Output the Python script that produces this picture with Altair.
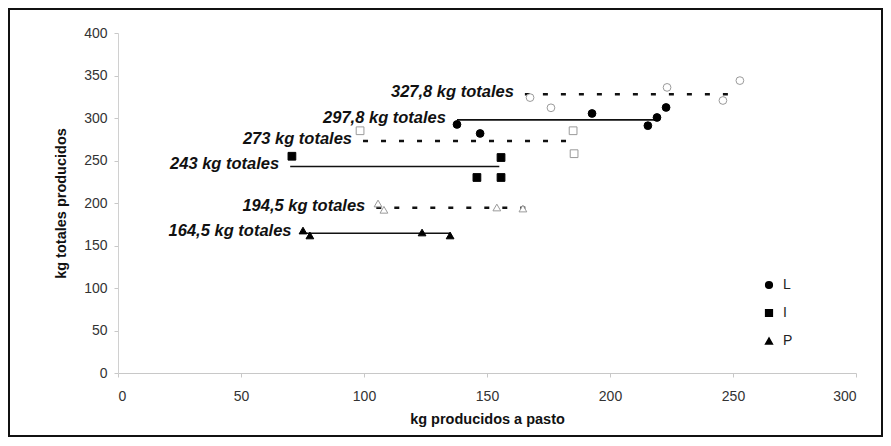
import altair as alt
import pandas as pd

# ---- horizontal "total" lines ----
line_label = ["327,8 kg totales", "297,8 kg totales", "273 kg totales",
              "243 kg totales", "194,5 kg totales", "164,5 kg totales"]
line_total = [327.8, 297.8, 273.0, 243.0, 194.5, 164.5]
line_style = ["dashed", "solid", "dashed", "solid", "dashed", "solid"]
line_start = [165.4, 137.8, 99.6, 70.0, 105.0, 75.0]
line_end = [249.6, 219.0, 183.0, 155.0, 167.5, 135.0]

# ---- points (x = kg producidos a pasto, y = kg totales producidos) ----
L_filled_x = [137.8, 147.2, 192.7, 215.4, 219.1, 222.8]
L_filled_y = [292.4, 281.8, 305.3, 291.0, 300.6, 312.4]
L_open_x = [167.5, 176.0, 223.2, 245.9, 252.8]
L_open_y = [324.0, 312.0, 336.0, 320.6, 344.0]
I_filled_x = [70.7, 145.9, 155.7, 155.7]
I_filled_y = [255.0, 230.0, 253.5, 230.0]
I_open_x = [98.4, 185.0, 185.4]
I_open_y = [285.0, 285.0, 258.0]
P_filled_x = [75.2, 78.0, 123.6, 135.0]
P_filled_y = [167.6, 161.8, 165.3, 161.8]
P_open_x = [105.7, 108.1, 154.0, 164.6]
P_open_y = [199.4, 192.0, 194.7, 193.5]

x_ticks = [0, 50, 100, 150, 200, 250, 300]
y_ticks = [0, 50, 100, 150, 200, 250, 300, 350, 400]

rows = []
for g, f, xs_, ys_ in [("L", "filled", L_filled_x, L_filled_y), ("L", "open", L_open_x, L_open_y),
                       ("I", "filled", I_filled_x, I_filled_y), ("I", "open", I_open_x, I_open_y),
                       ("P", "filled", P_filled_x, P_filled_y), ("P", "open", P_open_x, P_open_y)]:
    for a, b in zip(xs_, ys_):
        rows.append({"group": g, "fill": f, "x": a, "y": b})
pts = pd.DataFrame(rows)
lines = pd.DataFrame({"label": line_label, "y": line_total, "style": line_style,
                      "x": line_start, "x2": line_end})

FONT = "Liberation Sans"
W, H = 738, 340
xs = alt.Scale(domain=[0, 300], nice=False)
ys = alt.Scale(domain=[0, 400], nice=False)
xaxis = alt.Axis(title="kg producidos a pasto", values=x_ticks, grid=False, domainColor="#c8c8c8",
                 tickColor="#c8c8c8", tickSize=4, labelPadding=12, labelFontSize=14,
                 labelColor="#333", titleFontSize=14.5, titleFontWeight="bold", titlePadding=9,
                 titleColor="#111", labelFont=FONT, titleFont=FONT)
yaxis = alt.Axis(title="kg totales producidos", values=y_ticks, grid=False, domainColor="#d0d0d0",
                 tickColor="#c8c8c8", tickSize=4, labelPadding=7, labelFontSize=14,
                 labelColor="#333", titleFontSize=14.5, titleFontWeight="bold", titlePadding=15,
                 titleColor="#111", labelFont=FONT, titleFont=FONT)

base_lines = alt.Chart(lines)
solid = base_lines.transform_filter(alt.datum.style == "solid").mark_rule(
    color="#111", strokeWidth=1.6).encode(
    x=alt.X("x:Q", scale=xs, axis=xaxis), x2="x2:Q", y=alt.Y("y:Q", scale=ys, axis=yaxis))
dashed = base_lines.transform_filter(alt.datum.style == "dashed").mark_rule(
    color="#111", strokeWidth=2.5, strokeDash=[5, 13]).encode(
    x=alt.X("x:Q", scale=xs, axis=xaxis), x2="x2:Q", y=alt.Y("y:Q", scale=ys, axis=yaxis))
texts = base_lines.mark_text(align="right", baseline="middle", dx=-11, dy=-2, font=FONT,
                             fontSize=16.5, fontWeight="bold", fontStyle="italic",
                             color="#111").encode(
    x=alt.X("x:Q", scale=xs, axis=xaxis), y=alt.Y("y:Q", scale=ys, axis=yaxis), text="label:N")

points = alt.Chart(pts).mark_point(filled=True, size=60, strokeWidth=1, opacity=1).encode(
    x=alt.X("x:Q", scale=xs, axis=xaxis),
    y=alt.Y("y:Q", scale=ys, axis=yaxis),
    shape=alt.Shape("group:N",
                    scale=alt.Scale(domain=["L", "I", "P"], range=["circle", "square", "triangle-up"]),
                    legend=alt.Legend(title=None, orient="none", legendX=644, legendY=245,
                                      symbolFillColor="black", symbolStrokeColor="black",
                                      symbolSize=45, symbolOpacity=1, labelFontSize=14,
                                      labelFont=FONT, labelColor="#222", rowPadding=14,
                                      labelOffset=7)),
    fill=alt.Fill("fill:N", scale=alt.Scale(domain=["filled", "open"], range=["black", "white"]),
                  legend=None),
    stroke=alt.Stroke("fill:N", scale=alt.Scale(domain=["filled", "open"], range=["black", "#9a9a9a"]),
                      legend=None),
)

frame = alt.Chart(alt.Data(values=[{"a": 1}])).mark_rect(
    filled=False, stroke="#111", strokeWidth=2).encode(
    x=alt.value(-109), x2=alt.value(764), y=alt.value(-24), y2=alt.value(403))

chart = alt.layer(frame, solid, dashed, texts, points).properties(
    width=W, height=H,
    autosize=alt.AutoSizeParams(type="none"),
    padding={"left": 110, "top": 25, "right": 27, "bottom": 65},
    background="white",
).configure_view(stroke=None)

chart.save("out.html", embed_options={"renderer": "svg", "actions": False})
